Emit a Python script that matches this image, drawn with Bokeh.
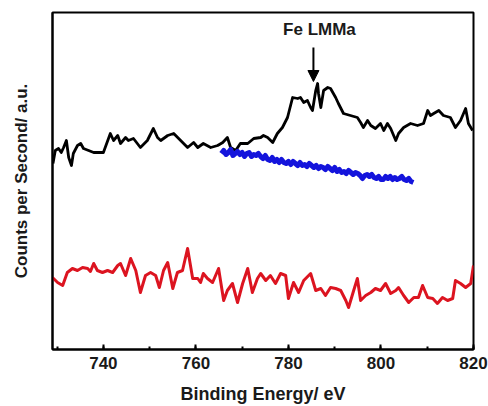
import numpy as np
from bokeh.plotting import figure
from bokeh.models import Range1d, SingleIntervalTicker, FixedTicker, Label, Arrow, NormalHead
from bokeh.embed import file_html
from bokeh.resources import INLINE

# ---- data (binding energy in eV, intensity in arbitrary units) ----
black_x = [729.1, 729.6, 730.3, 730.9, 731.4, 732.0, 732.5, 733.1, 733.5, 734.4, 735.1, 735.7,
           736.8, 737.9, 740.0, 741.5, 742.2, 743.1, 743.7, 744.8, 745.4, 746.5, 748.0, 749.5,
           750.8, 751.7, 752.4, 753.9, 755.2, 756.7, 758.2, 759.5, 760.4, 761.6, 763.2, 764.7,
           765.8, 766.8, 767.5, 768.6, 769.6, 771.2, 772.5, 774.0, 774.6, 775.5, 776.6, 777.6,
           778.7, 779.8, 780.9, 782.0, 782.6, 783.3, 784.1, 784.8, 785.2, 785.9, 786.3, 786.5,
           787.0, 787.6, 788.5, 789.1, 790.2, 790.8, 791.9, 793.4, 794.9, 795.6, 796.2, 797.1,
           797.8, 798.8, 799.9, 800.6, 801.4, 802.1, 803.2, 803.8, 804.9, 806.4, 807.9, 809.2,
           810.1, 810.7, 811.4, 812.5, 813.5, 815.0, 816.1, 817.2, 818.3, 818.9, 819.8]
black_y = [186, 199, 201, 197, 202, 209, 192, 184, 196, 204, 206, 201,
           199, 197, 197, 216, 209, 214, 206, 212, 209, 211, 202, 209,
           221, 212, 209, 214, 216, 209, 202, 207, 202, 206, 202, 204,
           207, 212, 202, 199, 206, 206, 211, 212, 214, 212, 207, 216,
           222, 232, 252, 251, 252, 247, 249, 242, 239, 259, 266, 256,
           242, 259, 262, 261, 252, 246, 236, 234, 232, 227, 222, 229,
           224, 221, 226, 219, 226, 221, 209, 216, 222, 226, 224, 226,
           239, 234, 236, 239, 234, 232, 222, 229, 241, 226, 219]

blue_x0 = 765.5
blue_step = 0.5
blue_y = [196, 199, 195, 197, 200, 194, 196, 198, 195, 197, 193, 196, 197, 193, 195, 194,
          196, 193, 191, 194, 190, 189, 192, 188, 190, 187, 190, 187, 186, 188, 185, 188,
          186, 184, 187, 184, 185, 183, 186, 184, 182, 184, 181, 183, 182, 180, 183, 181,
          179, 182, 178, 180, 177, 178, 176, 179, 177, 175, 177, 176, 174, 171, 174, 175,
          173, 175, 172, 171, 173, 170, 170, 173, 171, 173, 170, 172, 170, 171, 173, 170,
          169, 171, 168, 167]
blue_x = [blue_x0 + blue_step * i for i in range(len(blue_y))]

red_x = [729.0, 730.1, 731.2, 732.2, 733.3, 734.4, 735.5, 736.6, 737.2, 737.9, 738.7, 739.8,
         740.9, 742.0, 743.1, 743.7, 744.8, 745.9, 747.0, 748.0, 749.1, 750.2, 751.3, 752.1,
         753.0, 753.9, 755.0, 756.0, 757.1, 758.2, 759.3, 760.4, 761.0, 761.6, 762.5, 763.6,
         764.9, 766.0, 766.8, 767.9, 769.0, 770.1, 771.2, 772.2, 773.3, 774.0, 775.1, 776.1,
         777.2, 778.3, 779.4, 780.0, 781.1, 782.2, 783.3, 784.8, 785.9, 787.0, 788.0, 789.1,
         790.2, 791.3, 792.4, 793.0, 794.1, 794.9, 795.6, 796.7, 797.8, 798.8, 799.9, 801.0,
         802.1, 803.2, 803.8, 804.9, 806.0, 807.1, 808.1, 809.0, 810.1, 811.2, 812.2, 813.3,
         814.4, 815.5, 816.1, 817.2, 818.3, 819.4, 820.0]
red_y = [72, 67, 64, 77, 81, 79, 82, 81, 78, 86, 79, 77,
         79, 77, 84, 86, 74, 91, 79, 57, 74, 77, 74, 62,
         79, 87, 61, 77, 79, 101, 71, 71, 67, 76, 71, 67,
         81, 49, 59, 66, 47, 66, 81, 57, 71, 76, 69, 74,
         66, 76, 74, 51, 67, 57, 69, 76, 59, 61, 54, 62,
         61, 59, 49, 42, 59, 71, 49, 54, 57, 61, 59, 66,
         56, 59, 62, 54, 47, 52, 52, 64, 52, 51, 46, 52,
         49, 51, 69, 66, 62, 66, 84]

x_ticks_interval = 20
annot_text = "Fe LMMa"
annot_x = 786.7
annot_y = 320
arrow_x = 785.4
arrow_y_start = 302
arrow_y_end = 268

FONT = "Liberation Sans"

p = figure(width=488, height=406, output_backend="svg", toolbar_location=None,
           x_range=Range1d(729, 820), y_range=Range1d(0, 337),
           min_border_left=52, min_border_right=15, min_border_top=12, min_border_bottom=57)
p.background_fill_color = "white"
p.border_fill_color = "white"
p.outline_line_color = "black"
p.outline_line_width = 2
p.xgrid.visible = False
p.ygrid.visible = False

p.line(black_x, black_y, line_color="black", line_width=2.8, line_join="round")
p.line(blue_x, blue_y, line_color="#1414dc", line_width=5, line_join="round")
p.line(red_x, red_y, line_color="#dc1420", line_width=3, line_join="round")

# x axis
xa = p.xaxis[0]
xa.ticker = SingleIntervalTicker(interval=x_ticks_interval, num_minor_ticks=2)
xa.axis_line_color = "black"
xa.axis_line_width = 2
xa.major_tick_in = 5
xa.major_tick_out = 0
xa.minor_tick_in = 3
xa.minor_tick_out = 0
xa.major_tick_line_width = 2
xa.minor_tick_line_width = 2
xa.major_label_text_font = FONT
xa.major_label_text_font_style = "bold"
xa.major_label_text_font_size = "17px"
xa.major_label_text_color = "#1a1a1a"
xa.major_label_standoff = 7
xa.axis_label = "Binding Energy/ eV"
xa.axis_label_text_font = FONT
xa.axis_label_text_font_style = "bold"
xa.axis_label_text_font_size = "18px"
xa.axis_label_text_color = "#1a1a1a"
xa.axis_label_standoff = 12

# y axis
ya = p.yaxis[0]
ya.ticker = FixedTicker(ticks=[])
ya.axis_line_color = "black"
ya.axis_line_width = 2
ya.major_tick_line_color = None
ya.minor_tick_line_color = None
ya.major_label_text_font_size = "0px"
ya.major_label_standoff = 0
ya.axis_label = "Counts per Second/ a.u."
ya.axis_label_text_font = FONT
ya.axis_label_text_font_style = "bold"
ya.axis_label_text_font_size = "17px"
ya.axis_label_text_color = "#1a1a1a"
ya.axis_label_standoff = 22

p.add_layout(Label(x=annot_x, y=annot_y, text=annot_text, text_font=FONT,
                   text_font_style="bold", text_font_size="17px", text_color="#1a1a1a",
                   text_align="center", text_baseline="middle"))
p.add_layout(Arrow(x_start=arrow_x, y_start=arrow_y_start, x_end=arrow_x, y_end=arrow_y_end,
                   line_color="black", line_width=2,
                   end=NormalHead(size=11, fill_color="black", line_color="black", line_width=1)))

open("out.html", "w").write(file_html(p, INLINE))
